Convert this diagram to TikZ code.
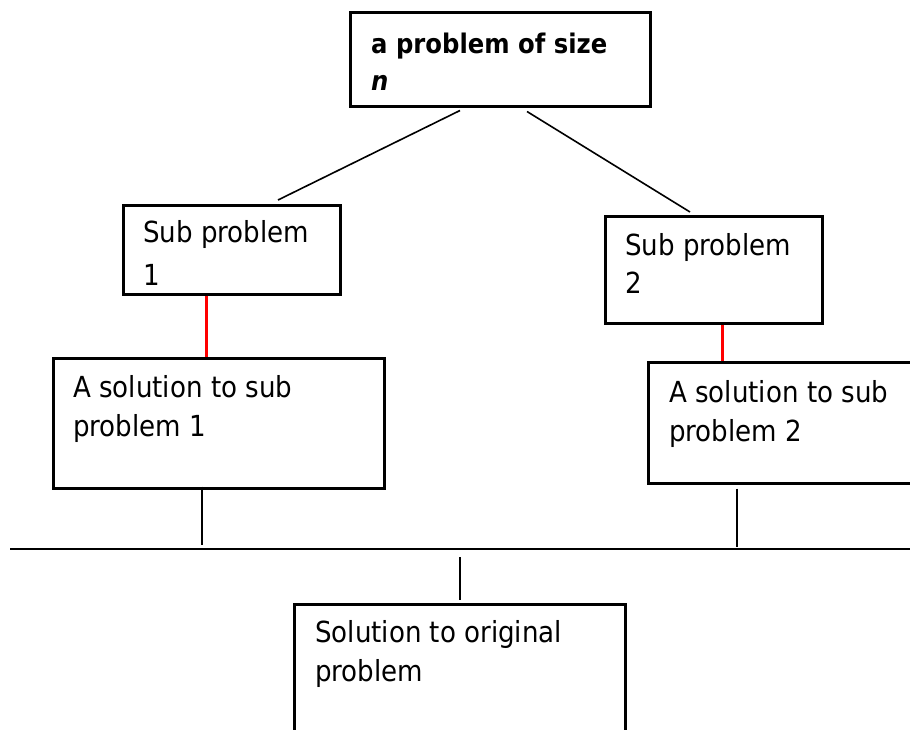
\documentclass[tikz,border=0pt]{standalone}
\usepackage{fontspec}
\setmainfont{DejaVu Sans}[FakeStretch=0.9]
\usetikzlibrary{calc}
\begin{document}
\begin{tikzpicture}[x=1pt,y=-1pt,
  box/.style={draw=black, line width=2.5pt, inner sep=0pt, anchor=north west},
  txt/.style={anchor=base west, inner sep=0pt, font=\fontsize{29}{34}\selectfont},
  btxt/.style={anchor=base west, inner sep=0pt, font=\fontsize{27}{32}\selectfont\bfseries},
  link/.style={draw=black, line width=1.6pt},
  redlink/.style={draw=red, line width=3pt}]
\clip (0,0) rectangle (910,729);
\fill[white] (0,0) rectangle (910,729);
% boxes
\node[box, minimum width=300pt, minimum height=94pt] (top) at (349,11) {};
\node[box, minimum width=217pt, minimum height=89pt] (sub1) at (122,204) {};
\node[box, minimum width=217pt, minimum height=107pt] (sub2) at (604,215) {};
\node[box, minimum width=331pt, minimum height=130pt] (sol1) at (52,357) {};
\node[box, minimum width=290pt, minimum height=121pt] (sol2) at (647,361) {};
\node[box, minimum width=331pt, minimum height=150pt] (orig) at (293,603) {};
% texts
\node[btxt] (t1) at (371,53) {a problem of size};
\node[btxt] (t2) at (371,90) {\itshape n};
\node[txt] (s1a) at (143,242) {Sub problem};
\node[txt] (s1b) at (143,285) {1};
\node[txt] (s2a) at (625,255) {Sub problem};
\node[txt] (s2b) at (625,293) {2};
\node[txt] (a1a) at (73,397) {A solution to sub};
\node[txt] (a1b) at (73,436) {problem 1};
\node[txt] (a2a) at (669,402) {A solution to sub};
\node[txt] (a2b) at (669,441) {problem 2};
\node[txt] (o1) at (315,642) {Solution to original};
\node[txt] (o2) at (315,681) {problem};
% junction points
\coordinate (j1) at (202,545);
\coordinate (j2) at (737,547);
\coordinate (barL) at (10,549);
\coordinate (barR) at (910,549);
\coordinate (j3) at (460,557);
% connectors
\draw[link] ($(top.south west)+(111,3)$) -- ($(sub1.north west)+(156,-4)$);
\draw[link] ($(top.south west)+(178,4)$) -- ($(sub2.north west)+(86,-3)$);
\draw[redlink] ($(sub1.south west)+(84,0)$) -- ($(sol1.north west)+(154,0)$);
\draw[redlink] ($(sub2.south west)+(118,0)$) -- ($(sol2.north west)+(75,0)$);
\draw[link] ($(sol1.south west)+(150,-3)$) -- (j1);
\draw[link] ($(sol2.south west)+(90,4)$) -- (j2);
\draw[link] (barL) -- (barR);
\draw[link] (j3) -- ($(orig.north west)+(167,-3)$);
\end{tikzpicture}
\end{document}
